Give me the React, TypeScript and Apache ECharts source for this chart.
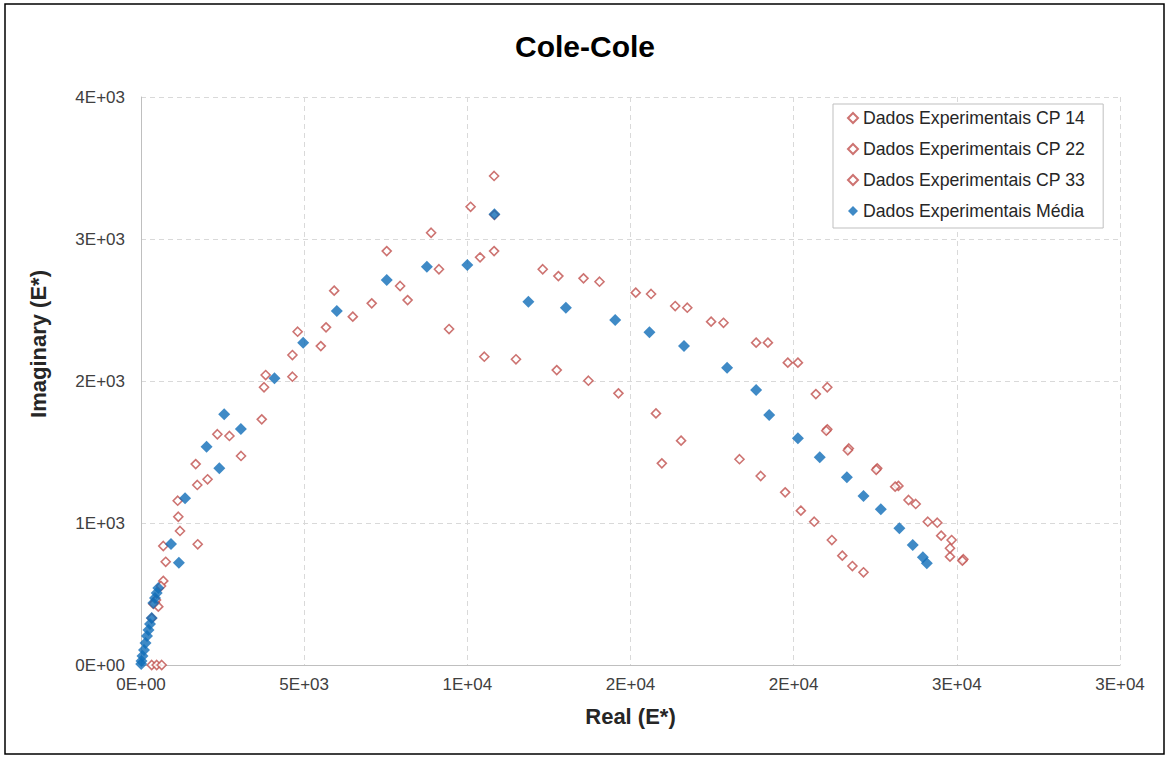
import React, { useEffect, useRef } from "react";
import * as echarts from "echarts";

const titleText = "Cole-Cole";
const xName = "Real (E*)";
const yName = "Imaginary (E*)";
const seriesNames = [
  "Dados Experimentais CP 14",
  "Dados Experimentais CP 22",
  "Dados Experimentais CP 33",
  "Dados Experimentais Média",
];

const xTickLabels = ["0E+00", "5E+03", "1E+04", "2E+04", "2E+04", "3E+04", "3E+04"];
const yTickLabels = ["0E+00", "1E+03", "2E+03", "3E+03", "4E+03"];

const cp14: number[][] = [
  [25200, 745], [24790, 763], [24840, 880], [24400, 1002], [23740, 1134], [23210, 1261],
  [22560, 1385], [21690, 1525], [21030, 1660], [21030, 1956], [20130, 2129], [19210, 2270],
  [17850, 2410], [16740, 2516], [15630, 2613], [14050, 2699], [12790, 2739], [10820, 3444],
  [10100, 3227], [8890, 3044], [7530, 2915], [5920, 2636], [4800, 2347], [3820, 2042],
  [3700, 1730], [2710, 1613], [2040, 1308], [1125, 1157], [1195, 944], [757, 727],
  [683, 592], [420, 440], [330, 330], [328, 0],
];

const cp22: number[][] = [
  [25170, 735], [24790, 822], [24520, 911], [24110, 1009], [23520, 1162], [23110, 1256],
  [22530, 1375], [21660, 1512], [21000, 1650], [20680, 1908], [19820, 2129], [18850, 2270],
  [17470, 2418], [16370, 2528], [15160, 2622], [13560, 2723], [12310, 2787], [10830, 3170],
  [10390, 2871], [9130, 2787], [7940, 2669], [6490, 2453], [5510, 2246], [4640, 2030],
  [3065, 1472], [2340, 1625], [1676, 1415], [1725, 1268], [1143, 1044], [1738, 850],
  [613, 556], [460, 458], [481, 0],
];

const cp33: number[][] = [
  [22140, 653], [21800, 697], [21490, 770], [21170, 880], [20630, 1009], [20220, 1087],
  [19740, 1216], [18990, 1331], [18340, 1449], [15960, 1420], [16550, 1580], [15780, 1772],
  [14630, 1913], [13710, 2002], [12740, 2077], [11490, 2153], [10520, 2171], [10820, 2915],
  [9440, 2366], [8170, 2570], [7070, 2547], [5670, 2378], [4640, 2183], [3770, 1956],
  [683, 838], [530, 411], [380, 430], [634, 0],
];

const media: number[][] = [
  [24080, 716], [23960, 758], [23650, 845], [23240, 963], [22670, 1096], [22140, 1190],
  [21630, 1322], [20800, 1463], [20130, 1596], [19250, 1761], [18850, 1937], [17960, 2094],
  [16640, 2246], [15580, 2343], [14530, 2430], [13020, 2516], [11870, 2558], [10830, 3174],
  [10000, 2817], [8760, 2805], [7530, 2711], [6000, 2493], [4970, 2270], [4090, 2019],
  [3060, 1662], [2550, 1765], [2400, 1385], [2010, 1537], [1350, 1174], [1160, 720],
  [920, 852], [530, 542], [481, 507], [429, 472], [377, 437], [328, 331], [276, 289],
  [230, 246], [184, 204], [138, 155], [92, 106], [46, 63], [15, 28], [5, 7],
];

const FONT = "'Liberation Sans', Arial, sans-serif";
const RED = "#C0504D";
const BLUE = "#0F6DB8";

export default function App() {
  const ref = useRef<HTMLDivElement>(null);

  useEffect(() => {
    if (!ref.current) return;
    const chart = echarts.init(ref.current, null, { renderer: "svg" });

    const redSeries = (name: string, data: number[][]) => ({
      name,
      type: "scatter",
      data,
      symbol: "diamond",
      symbolSize: 9,
      itemStyle: { color: "#ffffff", borderColor: RED, borderWidth: 1.6 },
      emphasis: { disabled: true },
    });

    chart.setOption({
      animation: false,
      backgroundColor: "#ffffff",
      textStyle: { fontFamily: FONT },
      title: {
        text: titleText,
        left: "center",
        top: 26,
        textStyle: { fontFamily: FONT, fontSize: 30, fontWeight: "bold", color: "#000000" },
      },
      grid: { left: 141, right: 50, top: 97, bottom: 93 },
      legend: {
        orient: "vertical",
        left: 833,
        top: 104,
        icon: "diamond",
        itemWidth: 10,
        itemHeight: 10,
        itemGap: 11,
        padding: [4, 18, 7, 14],
        borderColor: "#bfbfbf",
        borderWidth: 1,
        backgroundColor: "#ffffff",
        textStyle: { fontFamily: FONT, fontSize: 17.7, lineHeight: 20, color: "#262626" },
        data: seriesNames,
      },
      xAxis: {
        type: "value",
        min: 0,
        max: 30000,
        interval: 5000,
        name: xName,
        nameLocation: "middle",
        nameGap: 40,
        nameTextStyle: { fontFamily: FONT, fontSize: 22, fontWeight: "bold", color: "#262626" },
        axisLine: { show: true, lineStyle: { color: "#bfbfbf", width: 1 } },
        axisTick: { show: false },
        axisLabel: {
          fontFamily: FONT,
          fontSize: 17,
          color: "#404040",
          margin: 11,
          formatter: (v: number) => xTickLabels[Math.round(v / 5000)] ?? "",
        },
        splitLine: { show: true, lineStyle: { color: "#d9d9d9", type: [5, 4], width: 1 } },
      },
      yAxis: {
        type: "value",
        min: 0,
        max: 4000,
        interval: 1000,
        axisLine: { show: true, lineStyle: { color: "#bfbfbf", width: 1 } },
        axisTick: { show: false },
        axisLabel: {
          fontFamily: FONT,
          fontSize: 17,
          color: "#404040",
          margin: 16,
          formatter: (v: number) => yTickLabels[Math.round(v / 1000)] ?? "",
        },
        splitLine: { show: true, lineStyle: { color: "#d9d9d9", type: [5, 4], width: 1 } },
      },
      graphic: [
        {
          type: "rect",
          shape: { x: 5, y: 4, width: 1159, height: 750 },
          style: { fill: "none", stroke: "#000000", lineWidth: 1.5 },
          silent: true,
          z: -1,
        },
        {
          type: "text",
          x: 38,
          y: 344,
          rotation: Math.PI / 2,
          style: {
            text: yName,
            font: `bold 22px ${FONT}`,
            fill: "#262626",
            textAlign: "center",
            textVerticalAlign: "middle",
          },
        },
      ],
      series: [
        redSeries(seriesNames[0], cp14),
        redSeries(seriesNames[1], cp22),
        redSeries(seriesNames[2], cp33),
        {
          name: seriesNames[3],
          type: "scatter",
          data: media,
          symbol: "diamond",
          symbolSize: 12,
          itemStyle: { color: BLUE },
          emphasis: { disabled: true },
        },
      ],
    });

    return () => chart.dispose();
  }, []);

  return (
    <div
      ref={ref}
      style={{ position: "absolute", left: 0, top: 0, width: 1170, height: 758 }}
    />
  );
}
